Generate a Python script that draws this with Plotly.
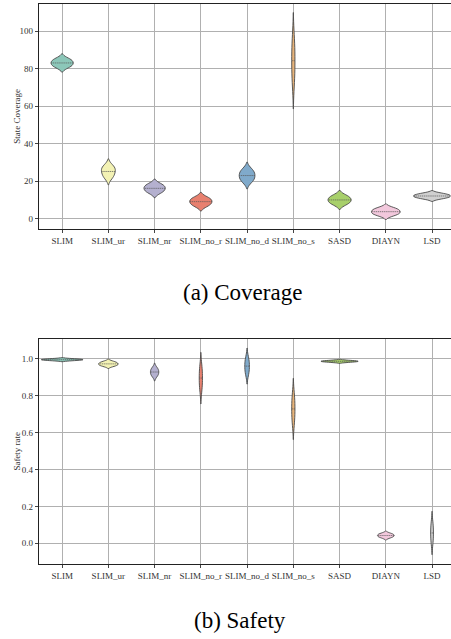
import plotly.graph_objects as go

methods = ["SLIM", "SLIM_ur", "SLIM_nr", "SLIM_no_r", "SLIM_no_d", "SLIM_no_s", "SASD", "DIAYN", "LSD"]

coverage = {
    "SLIM": [80.8, 81.9, 83.0, 84.1, 85.2],
    "SLIM_ur": [21.9, 23.6, 25.4, 26.8, 28.1],
    "SLIM_nr": [13.9, 15.1, 16.2, 17.3, 18.4],
    "SLIM_no_r": [6.8, 8.0, 9.1, 10.2, 11.3],
    "SLIM_no_d": [19.8, 21.4, 23.0, 24.6, 26.2],
    "SLIM_no_s": [72.6, 78.4, 84.2, 90.0, 95.8],
    "SASD": [7.7, 8.9, 10.0, 11.1, 12.3],
    "DIAYN": [1.9, 2.8, 3.7, 4.7, 5.6],
    "LSD": [10.8, 11.5, 12.1, 12.7, 13.4],
}

safety = {
    "SLIM": [0.990, 0.993, 0.995, 0.997, 1.000],
    "SLIM_ur": [0.961, 0.966, 0.972, 0.978, 0.984],
    "SLIM_nr": [0.906, 0.917, 0.928, 0.939, 0.950],
    "SLIM_no_r": [0.832, 0.864, 0.895, 0.927, 0.958],
    "SLIM_no_d": [0.916, 0.938, 0.960, 0.982, 1.004],
    "SLIM_no_s": [0.653, 0.691, 0.728, 0.766, 0.803],
    "SASD": [0.981, 0.984, 0.986, 0.988, 0.991],
    "DIAYN": [0.031, 0.037, 0.042, 0.048, 0.053],
    "LSD": [0.003, 0.030, 0.056, 0.083, 0.109],
}

colors = ["#8cc7b9", "#f3f2b4", "#b4b0cf", "#e8806f", "#80aacb", "#e8b47a", "#a8d06b", "#f2c8dc", "#d0d0d0"]

# violin full widths (category units), style only
cov_widths = [0.48, 0.30, 0.46, 0.48, 0.34, 0.07, 0.50, 0.62, 0.80]
saf_widths = [0.90, 0.42, 0.18, 0.07, 0.10, 0.07, 0.80, 0.36, 0.06]

fig = go.Figure()

for i, m in enumerate(methods):
    fig.add_trace(go.Violin(
        x=[m] * len(coverage[m]), y=coverage[m], xaxis="x", yaxis="y",
        fillcolor=colors[i], line=dict(color="#4a4a4a", width=0.9),
        width=cov_widths[i], points=False, opacity=1,
        meanline=dict(visible=True, color="#555555", width=0.7),
        showlegend=False, spanmode="soft"))
    fig.add_trace(go.Violin(
        x=[m] * len(safety[m]), y=safety[m], xaxis="x2", yaxis="y2",
        fillcolor=colors[i], line=dict(color="#4a4a4a", width=0.9),
        width=saf_widths[i], points=False, opacity=1,
        meanline=dict(visible=True, color="#555555", width=0.7),
        showlegend=False, spanmode="soft"))

serif = "Times New Roman, Liberation Serif, serif"
tickfont = dict(family=serif, size=9, color="#333333")
axis_common = dict(showgrid=True, gridcolor="#b0b0b0", gridwidth=1,
                   showline=True, linecolor="#222222", linewidth=1.2, mirror=True,
                   ticks="outside", ticklen=3, tickcolor="#444444", tickfont=tickfont,
                   zeroline=False, automargin=False)

fig.update_layout(
    width=451, height=639,
    margin=dict(l=0, r=0, t=0, b=0),
    paper_bgcolor="white", plot_bgcolor="white",
    violinmode="overlay",
    xaxis=dict(domain=[0.0865, 0.999], anchor="y", range=[-0.5, 8.4],
               categoryorder="array", categoryarray=methods, **axis_common),
    yaxis=dict(domain=[0.6416, 0.9937], anchor="x", range=[-5.5, 114.4],
               tickvals=[0, 20, 40, 60, 80, 100], **axis_common),
    xaxis2=dict(domain=[0.0865, 0.999], anchor="y2", range=[-0.5, 8.4],
                categoryorder="array", categoryarray=methods, **axis_common),
    yaxis2=dict(domain=[0.1174, 0.4695], anchor="x2", range=[-0.112, 1.107],
                tickvals=[0.0, 0.2, 0.4, 0.6, 0.8, 1.0], tickformat=".1f",
                **axis_common),
    annotations=[
        dict(text="State Coverage", x=0.036, y=(0.6416 + 0.9937) / 2, xref="paper", yref="paper",
             xanchor="center", yanchor="middle",
             textangle=-90, showarrow=False, font=dict(family=serif, size=9, color="#333333")),
        dict(text="Safety rate", x=0.038, y=(0.1174 + 0.4695) / 2, xref="paper", yref="paper",
             xanchor="center", yanchor="middle",
             textangle=-90, showarrow=False, font=dict(family=serif, size=9, color="#333333")),
        dict(text="(a) Coverage", x=0.537, y=0.5415, xref="paper", yref="paper",
             xanchor="center", yanchor="middle",
             showarrow=False, font=dict(family=serif, size=23, color="black")),
        dict(text="(b) Safety", x=0.532, y=0.0297, xref="paper", yref="paper",
             xanchor="center", yanchor="middle",
             showarrow=False, font=dict(family=serif, size=23, color="black")),
    ],
)

fig.write_html("out.html", config={"displayModeBar": False},
               post_script="document.body.style.margin='0';document.body.style.padding='0';")
